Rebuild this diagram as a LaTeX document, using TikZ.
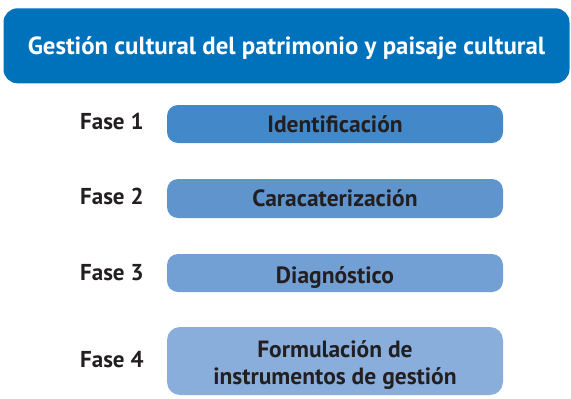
\documentclass[tikz,border=0pt]{standalone}
\usepackage{fontspec}
\setmainfont{PT Sans}
\definecolor{titleblue}{HTML}{0072BC}
\definecolor{fillA}{HTML}{4388C8}
\definecolor{fillB}{HTML}{5F94CD}
\definecolor{fillC}{HTML}{72A0D4}
\definecolor{fillD}{HTML}{8AAEDC}
\definecolor{darktext}{HTML}{231F20}
\begin{document}
\begin{tikzpicture}[x=1pt,y=-1pt,
  titlebox/.style={fill=titleblue, rounded corners=14pt, minimum width=566pt, minimum height=75pt, inner sep=0pt, text=white, font=\bfseries\fontsize{24.8}{28}\selectfont, text height=17pt, text depth=0pt},
  phasebox/.style={rounded corners=11pt, minimum width=336pt, minimum height=38pt, inner sep=0pt, text=darktext, font=\bfseries\fontsize{23.5}{27}\selectfont, align=center, text height=16.4pt, text depth=0pt},
  phasetext/.style={inner sep=0pt, text=darktext, font=\bfseries\fontsize{23.5}{27}\selectfont, align=center},
  phaselabel/.style={anchor=west, inner sep=0pt, text=darktext, font=\bfseries\fontsize{23}{26}\selectfont}]
\useasboundingbox (0,0) rectangle (571,399);
\node[titlebox] (title) at (286.5,45.8) {Gestión cultural del patrimonio y paisaje cultural};
\node[phasebox, fill=fillA] (b1) at (335,124) {Identificación};
\node[phasebox, fill=fillB, minimum height=39pt] (b2) at (335,198.5) {Caracaterización};
\node[phasebox, fill=fillC, text height=21.4pt] (b3) at (335,273) {Diagnóstico};
\node[phasebox, fill=fillD, minimum height=68pt, rounded corners=13pt] (b4) at (335,361) {};
\node[phasetext] (b4t) at ([yshift=-4pt]b4.center) {Formulación de\\instrumentos de gestión};
\node[phaselabel] (f1) at (80,121) {Fase 1};
\node[phaselabel] (f2) at (80,196) {Fase 2};
\node[phaselabel] (f3) at (80,273) {Fase 3};
\node[phaselabel] (f4) at (80,359.5) {Fase 4};
\end{tikzpicture}
\end{document}
